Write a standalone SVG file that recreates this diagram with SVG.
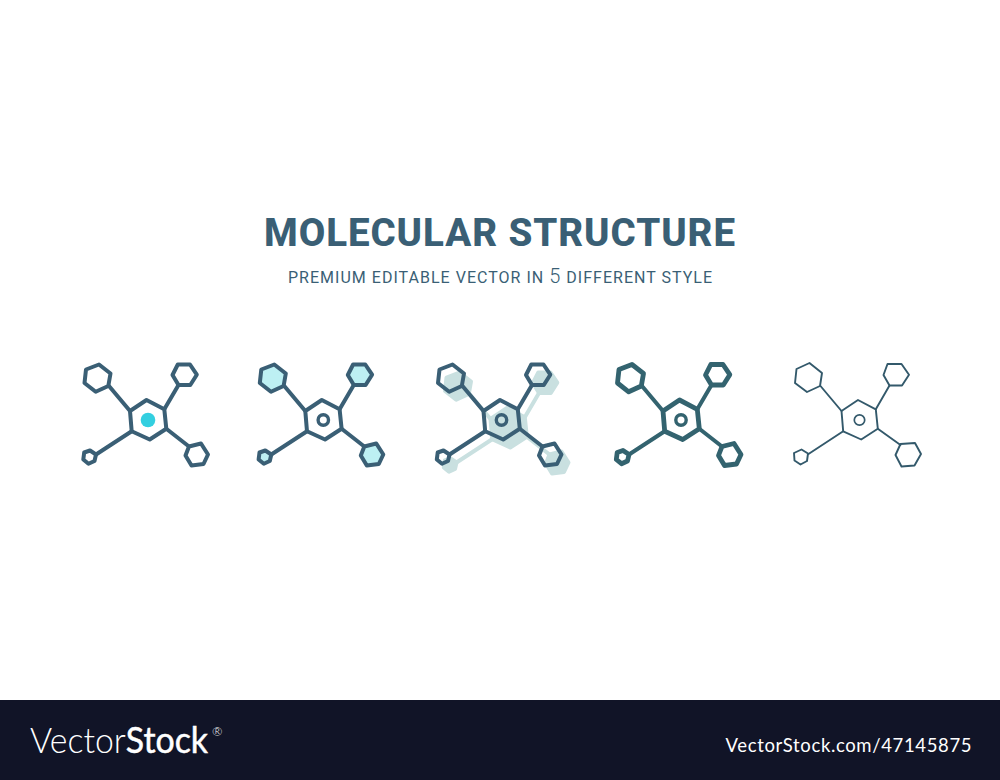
<svg xmlns="http://www.w3.org/2000/svg" width="1000" height="780" viewBox="0 0 1000 780">
<style>
.t{font-family:Roboto,"Liberation Sans",sans-serif;fill:#3a5f75}
.o{fill:none;stroke-linejoin:round;stroke-linecap:round}
.a{stroke:#3a5f75;stroke-width:4}
.d{stroke:#33636f;stroke-width:4}
.dh{stroke:#33636f;stroke-width:4.8}
.f{stroke:#33596b;stroke-width:1.9}
.s{fill:#c9e0e0;stroke:#c9e0e0;stroke-width:4;stroke-linejoin:round}
.l{fill:#bdf0f3}
</style>
<defs>
<polygon id="hC" points="146.5,400 164.3,409.3 166.3,428.7 149.7,439.5 131.7,431.3 130,411"/>
<polygon id="hTL" points="99,364.5 110.5,373.5 108.3,386 95.7,391.8 84.5,383 86,369.5"/>
<polygon id="hTR" points="177.8,364.5 190,364.5 196.8,374.7 190.3,385 178.5,385 172.5,375"/>
<polygon id="hBR" points="189,446.5 201,443.5 208,454.5 203.5,464 191.5,465.5 185.5,455.5"/>
<polygon id="hBL" points="90,450.5 96,454.5 94.5,461 88.5,463.7 83.3,459.5 84.2,452.5"/>
<path id="links" d="M109,386 130,411M178.5,385 164.3,409.3M166.3,428.7 189,446.5M131.7,431.3 96,454.5"/>
<g id="hexes"><use href="#hC"/><use href="#hTL"/><use href="#hTR"/><use href="#hBR"/><use href="#hBL"/></g>
<g id="mol"><use href="#links"/><use href="#hexes"/></g>
</defs>
<rect width="1000" height="780" fill="#fff"/>
<g id="title">
<text class="t" x="499.5" y="245.5" font-size="38.5" font-weight="800" text-anchor="middle" textLength="471" lengthAdjust="spacing">MOLECULAR STRUCTURE</text>
<text class="t" x="500" y="283" font-size="16" text-anchor="middle" textLength="424" lengthAdjust="spacing">PREMIUM EDITABLE VECTOR IN <tspan font-size="20" font-weight="300">5</tspan> DIFFERENT STYLE</text>
</g>
<g id="icon-1">
<g class="o a"><use href="#mol"/></g>
<circle cx="148" cy="420" r="7.3" fill="#33cfe0"/>
</g>
<g id="icon-2" transform="translate(175.3 0)">
<g class="l"><use href="#hTL"/><use href="#hTR"/><use href="#hBR"/><use href="#hBL"/></g>
<g class="o a"><use href="#mol"/></g>
<circle cx="148" cy="420" r="5.2" fill="none" stroke="#3a5f75" stroke-width="3.4"/>
</g>
<g id="icon-3" transform="translate(353.5 0)">
<g class="s" transform="translate(7 8)"><use href="#mol"/></g>
<g class="o a"><use href="#mol"/></g>
<circle cx="148" cy="420" r="5.2" fill="none" stroke="#3a5f75" stroke-width="3.4"/>
</g>
<g id="icon-4" transform="translate(533 0)">
<g class="o d"><use href="#links"/></g>
<g class="o dh"><use href="#hexes"/></g>
<circle cx="148" cy="420" r="5.2" fill="none" stroke="#33636f" stroke-width="3.4"/>
</g>
<g id="icon-5" transform="translate(711.5 0)">
<g class="o f"><path d="M109,386 130,411M178,385.5 164.3,409.3M166.3,428.7 189,445M131.7,431.3 97,454"/><use href="#hC"/>
<polygon points="98,363 110.5,373 108.5,386 95.5,392 83.5,383 85,369"/><polygon points="176,364 190,364 197.5,374.7 190.5,385.5 178,385.5 172,375"/><polygon points="189,444 203.5,443 209.5,454 203,465.5 190,466.5 184,455"/><polygon points="90,449.5 96.5,453.5 95.5,461 89,464.5 83,460.5 82.5,453"/></g>
<circle cx="148" cy="420" r="5.2" fill="none" stroke="#33596b" stroke-width="1.7"/>
</g>
<g id="footer">
<rect y="700" width="1000" height="80" fill="#111427"/>
<text x="30" y="753" font-family="Lato,'Open Sans',sans-serif" font-size="36" fill="#fff" textLength="178" lengthAdjust="spacingAndGlyphs"><tspan font-weight="300">Vector</tspan><tspan font-weight="400" stroke="#fff" stroke-width="0.5">Stock</tspan></text>
<text x="212" y="736" font-family="Lato,sans-serif" font-size="12.5" font-weight="300" fill="#fff">®</text>
<text x="971.5" y="752" font-family="Lato,'Open Sans',sans-serif" font-size="18.5" fill="#fff" text-anchor="end" textLength="246" lengthAdjust="spacing">VectorStock.com/47145875</text>
</g>
</svg>
